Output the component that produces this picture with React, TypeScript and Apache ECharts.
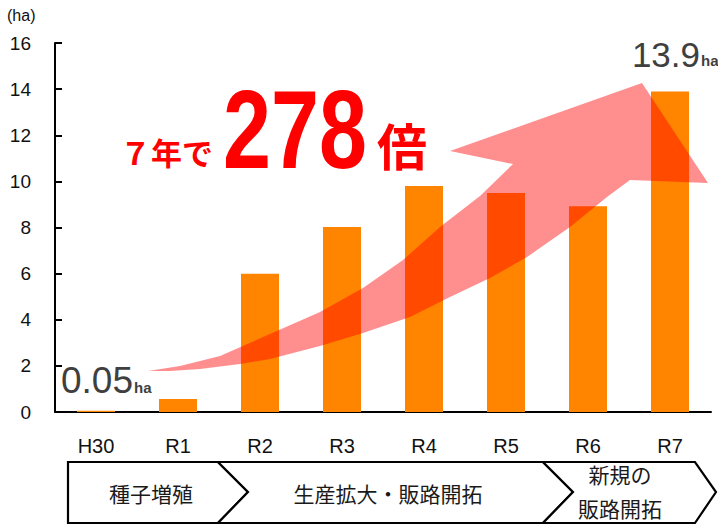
import React, { useEffect, useRef } from "react";
import * as echarts from "echarts";

// ---- data ----
const categories = ["H30", "R1", "R2", "R3", "R4", "R5", "R6", "R7"];
const areaHa = [0.05, 0.56, 6.0, 8.02, 9.8, 9.5, 8.92, 13.9];
const yMax = 16;
const yInterval = 2;
const unitLabel = "(ha)";
const unitSuffix = "ha";
const headlineSmall = "７年で";
const headlineBig = "278";
const headlineTail = "倍";
const stageLabels = ["種子増殖", "生産拡大・販路開拓", "新規の\n販路開拓"];

// ---- decoration geometry (pixels) ----
const arrowPoints: number[][] = [
  [148, 371], [180, 366], [220, 356], [270, 334], [320, 312], [363, 288],
  [403, 260], [440, 227], [480, 196], [513, 164],
  [450, 151], [642, 83], [708, 183], [630, 180],
  [607, 197], [570, 227], [527, 257], [490, 278], [450, 297], [410, 317],
  [363, 333], [320, 346], [270, 359], [240, 364], [200, 369], [170, 371],
];

const FONT = "'Liberation Sans', Arial, sans-serif";
const CJK = "'Noto Sans CJK JP', 'Noto Sans', sans-serif";

export default function App() {
  const ref = useRef<HTMLDivElement>(null);

  useEffect(() => {
    document.body.style.margin = "0";
    const chart = echarts.init(ref.current!, null, { renderer: "svg" });

    const top = 462, bottom = 523, mid = 492;
    const chevrons = [
      [[68, top], [218, top], [248, mid], [218, bottom], [68, bottom]],
      [[218, top], [543, top], [573, mid], [543, bottom], [218, bottom], [248, mid]],
      [[543, top], [695, top], [716, mid], [695, bottom], [543, bottom], [573, mid]],
    ];
    const stageCenters = [[151, 493], [388, 493], [620, 491]];

    const graphic: any[] = [
      {
        type: "text", x: 7, y: 15,
        style: { text: unitLabel, fontSize: 16, fontFamily: FONT, fill: "#111", align: "left", verticalAlign: "middle" },
      },
      {
        type: "polygon", z: 100,
        shape: { points: arrowPoints },
        style: { fill: "rgba(255,0,0,0.44)" },
      },
      {
        type: "text", x: 120, y: 151, z: 110,
        style: { text: headlineSmall, fontSize: 31, fontWeight: "bold", fontFamily: CJK, fill: "#ff0000", align: "left", verticalAlign: "middle" },
      },
      {
        type: "text", x: 223, y: 129, scaleX: 0.77, z: 110,
        style: { text: headlineBig, fontSize: 112, fontWeight: "bold", fontFamily: FONT, fill: "#ff0000", align: "left", verticalAlign: "middle" },
      },
      {
        type: "text", x: 377, y: 144, z: 110,
        style: { text: headlineTail, fontSize: 50, fontWeight: "bold", fontFamily: CJK, fill: "#ff0000", align: "left", verticalAlign: "middle" },
      },
      {
        type: "text", x: 133, y: 380, z: 110,
        style: { text: areaHa[0].toFixed(2), fontSize: 37, fontFamily: FONT, fill: "#3f3f3f", align: "right", verticalAlign: "middle" },
      },
      {
        type: "text", x: 134, y: 387, z: 110,
        style: { text: unitSuffix, fontSize: 15, fontWeight: "bold", fontFamily: FONT, fill: "#3f3f3f", align: "left", verticalAlign: "middle" },
      },
      {
        type: "text", x: 700, y: 54, z: 110,
        style: { text: areaHa[areaHa.length - 1].toFixed(1), fontSize: 35, fontFamily: FONT, fill: "#3f3f3f", align: "right", verticalAlign: "middle" },
      },
      {
        type: "text", x: 701, y: 60, z: 110,
        style: { text: unitSuffix, fontSize: 15, fontWeight: "bold", fontFamily: FONT, fill: "#3f3f3f", align: "left", verticalAlign: "middle" },
      },
    ];
    chevrons.forEach((pts, i) => {
      graphic.push({
        type: "polygon", z: 50,
        shape: { points: pts },
        style: { fill: "#fff", stroke: "#000", lineWidth: 2.2, lineJoin: "miter" },
      });
      graphic.push({
        type: "text", x: stageCenters[i][0], y: stageCenters[i][1], z: 60,
        style: { text: stageLabels[i], fontSize: 21, lineHeight: 34, fontFamily: CJK, fill: "#1a1a1a", align: "center", verticalAlign: "middle" },
      });
    });

    chart.setOption({
      animation: false,
      grid: { left: 55, right: 7, top: 43, bottom: 115 },
      xAxis: {
        type: "category",
        data: categories,
        axisLine: { lineStyle: { color: "#000", width: 2 } },
        axisTick: { show: false },
        axisLabel: { fontSize: 20, fontFamily: FONT, color: "#111", margin: 24 },
      },
      yAxis: {
        type: "value",
        min: 0,
        max: yMax,
        interval: yInterval,
        splitLine: { show: false },
        axisLine: { show: true, lineStyle: { color: "#000", width: 2 } },
        axisTick: { show: true, inside: true, length: 7, lineStyle: { color: "#000", width: 2 } },
        axisLabel: { fontSize: 19, fontFamily: FONT, color: "#111", margin: 24 },
      },
      series: [
        {
          type: "bar",
          data: areaHa,
          barWidth: 38,
          itemStyle: { color: "#ff8400" },
        },
      ],
      graphic,
    });

    return () => chart.dispose();
  }, []);

  return <div ref={ref} style={{ width: 718, height: 527 }} />;
}
